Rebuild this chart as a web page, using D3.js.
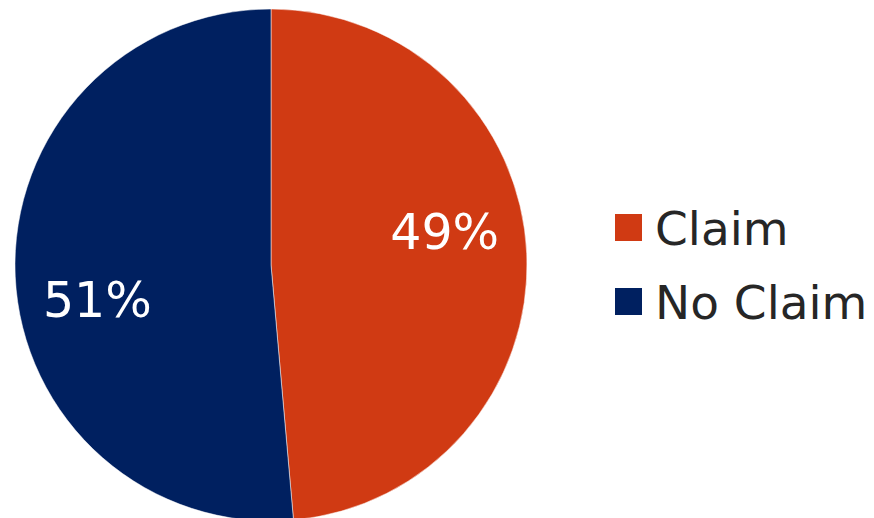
<!DOCTYPE html>
<html>
<head>
<meta charset="utf-8">
<script src="https://cdn.jsdelivr.net/npm/d3@7"></script>
<style>
  body { margin: 0; background: #fff; }
  text { font-family: "DejaVu Sans", Verdana, sans-serif; }
</style>
</head>
<body>
<div id="chart"></div>
<script>
  // chart data
  const categories = ["Claim", "No Claim"];
  const shares = [48.6, 51.4];
  const shareLabels = ["49%", "51%"];
  const colours = ["#D03A13", "#002060"];

  const width = 874, height = 518;
  const cx = 271, cy = 265, radius = 256;

  const svg = d3.select("#chart").append("svg")
      .attr("width", width)
      .attr("height", height);

  const pie = d3.pie().sort(null).value(d => d.value);
  const arc = d3.arc().innerRadius(0).outerRadius(radius);

  const data = categories.map((c, i) => ({name: c, value: shares[i], label: shareLabels[i], colour: colours[i]}));
  const arcs = pie(data);

  const g = svg.append("g").attr("transform", "translate(" + cx + "," + cy + ")");

  g.selectAll("path")
    .data(arcs)
    .enter().append("path")
      .attr("d", arc)
      .attr("fill", d => d.data.colour)
      .attr("stroke", "#fff")
      .attr("stroke-width", 0.5);

  // labels inside the slices, nudged a bit anticlockwise like the original
  const labelR = 177, nudge = -8.6 * Math.PI / 180;
  g.selectAll(".lbl")
    .data(arcs)
    .enter().append("text")
      .attr("class", "lbl")
      .attr("x", d => labelR * Math.sin((d.startAngle + d.endAngle) / 2 + nudge))
      .attr("y", d => -labelR * Math.cos((d.startAngle + d.endAngle) / 2 + nudge))
      .attr("text-anchor", "middle")
      .attr("dy", "0.36em")
      .attr("fill", "#fff")
      .style("font-size", "49px")
      .text(d => d.data.label);

  // legend
  const legend = svg.append("g").attr("transform", "translate(615,214)");
  const item = legend.selectAll(".item")
    .data(data)
    .enter().append("g")
      .attr("transform", (d, i) => "translate(0," + i * 74 + ")");

  item.append("rect")
    .attr("width", 27)
    .attr("height", 27)
    .attr("fill", d => d.colour);

  item.append("text")
    .attr("x", 40)
    .attr("y", 31)
    .attr("fill", "#262626")
    .style("font-size", "47px")
    .text(d => d.name);
</script>
</body>
</html>
